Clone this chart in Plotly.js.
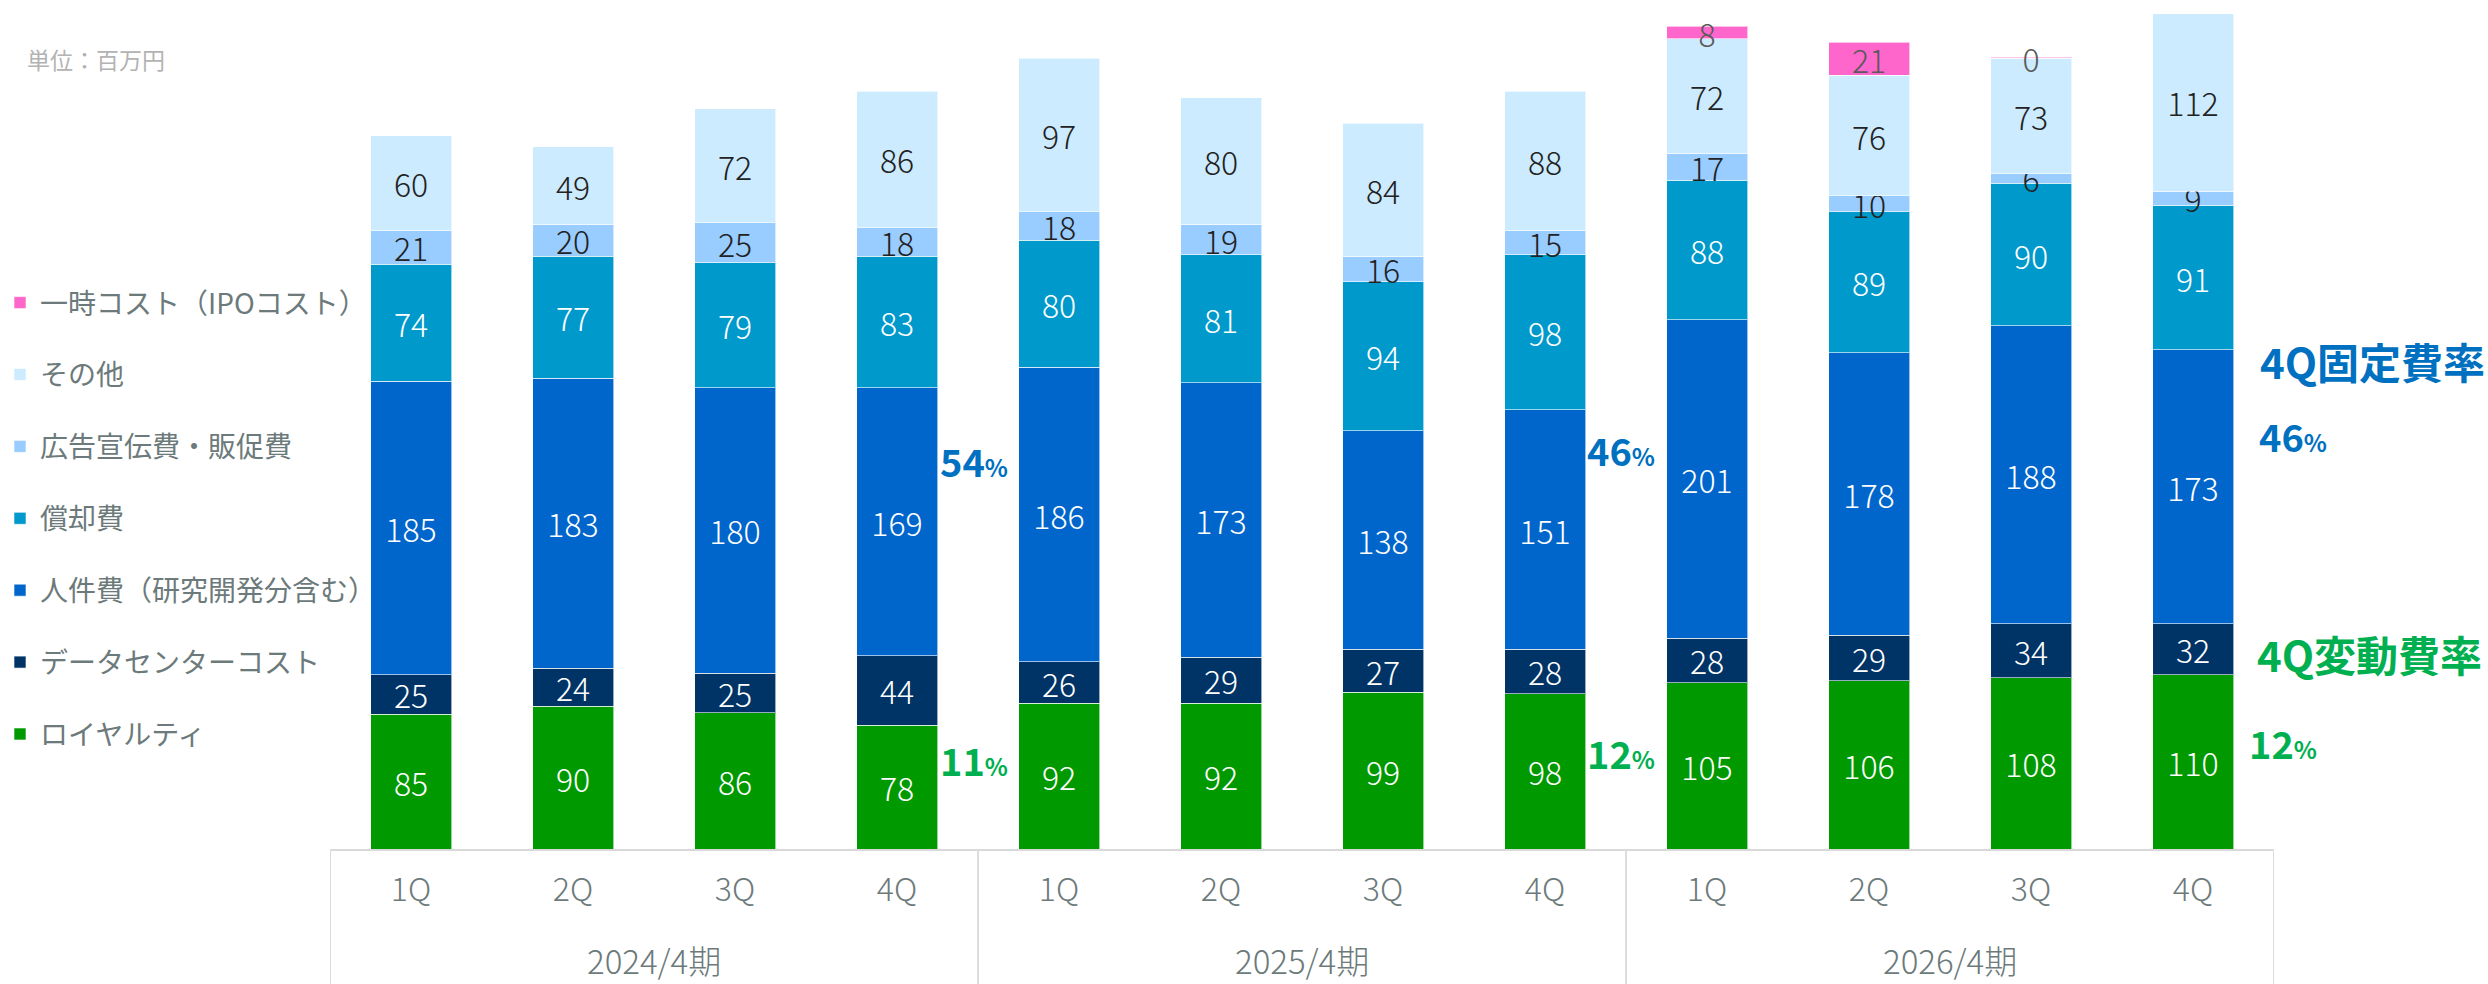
<!DOCTYPE html>
<html>
<head>
<meta charset="utf-8">
<script src="https://cdn.plot.ly/plotly-3.0.1.min.js"></script>
<style>html,body{margin:0;padding:0;background:#fff;}#chart{width:2488px;height:984px;}</style>
</head>
<body>
<div id="chart"></div>
<script>
// ---- data ----
const fiscalYears = ['2024/4期', '2025/4期', '2026/4期'];
const quarters = ['1Q', '2Q', '3Q', '4Q'];

const royalty    = [85, 90, 86, 78, 92, 92, 99, 98, 105, 106, 108, 110];
const dataCenter = [25, 24, 25, 44, 26, 29, 27, 28, 28, 29, 34, 32];
const personnel  = [185, 183, 180, 169, 186, 173, 138, 151, 201, 178, 188, 173];
const depreciation = [74, 77, 79, 83, 80, 81, 94, 98, 88, 89, 90, 91];
const advertising  = [21, 20, 25, 18, 18, 19, 16, 15, 17, 10, 6, 9];
const other        = [60, 49, 72, 86, 97, 80, 84, 88, 72, 76, 73, 112];
const ipoCost      = [null, null, null, null, null, null, null, null, 8, 21, 0.4, null];

const seriesNames = ['ロイヤルティ', 'データセンターコスト', '人件費（研究開発分含む）', '償却費', '広告宣伝費・販促費', 'その他', '一時コスト（IPOコスト）'];
const seriesValues = [royalty, dataCenter, personnel, depreciation, advertising, other, ipoCost];
const seriesColors = ['#009900', '#003366', '#0066CC', '#0099CC', '#99CCFF', '#CCEBFF', '#FF66CC'];
const labelColors  = ['#ffffff', '#ffffff', '#ffffff', '#ffffff', '#222222', '#222222', '#595959'];

// ---- categories ----
const categories = [], tickLabels = [];
fiscalYears.forEach(fy => quarters.forEach(q => { categories.push(fy + ' ' + q); tickLabels.push(q); }));

const FONT = '"Noto Sans CJK JP", "Noto Sans", sans-serif';
const AXIS_GREY = '#6c7a7b';

const traces = seriesValues.map((vals, i) => ({
  type: 'bar',
  name: seriesNames[i],
  x: categories,
  y: vals,
  legendgroup: 'g' + i,
  legendrank: seriesValues.length - i,
  marker: { color: seriesColors[i], line: { color: 'rgba(255,255,255,0.6)', width: 1 } },
  texttemplate: '%{y:.0f}',
  textposition: 'inside',
  insidetextanchor: 'middle',
  textangle: 0,
  constraintext: 'none',
  insidetextfont: { family: FONT, size: 32, weight: 300, color: labelColors[i] },
  hoverinfo: 'skip'
}));

const blue = '#0070C0', green = '#00B050';
function pct(num) {
  return '<b>' + num + '</b><span style="font-size:24px"><b>%</b></span>';
}
const annotations = [
  { text: '単位：百万円', xref: 'paper', yref: 'paper', x: -0.157, y: 0.9305, xanchor: 'left', yanchor: 'middle', showarrow: false, font: { family: FONT, size: 23, color: '#b3b3b3' } },
  { text: pct('54'), xref: 'paper', yref: 'paper', x: 0.3315, y: 0.458, xanchor: 'center', yanchor: 'middle', showarrow: false, font: { family: FONT, size: 38, color: blue } },
  { text: pct('11'), xref: 'paper', yref: 'paper', x: 0.3315, y: 0.106, xanchor: 'center', yanchor: 'middle', showarrow: false, font: { family: FONT, size: 38, color: green } },
  { text: pct('46'), xref: 'paper', yref: 'paper', x: 0.664, y: 0.471, xanchor: 'center', yanchor: 'middle', showarrow: false, font: { family: FONT, size: 38, color: blue } },
  { text: pct('12'), xref: 'paper', yref: 'paper', x: 0.664, y: 0.114, xanchor: 'center', yanchor: 'middle', showarrow: false, font: { family: FONT, size: 38, color: green } },
  { text: '<b>4Q固定費率</b>', xref: 'paper', yref: 'paper', x: 0.9918, y: 0.575, xanchor: 'left', yanchor: 'middle', showarrow: false, font: { family: FONT, size: 42, color: blue } },
  { text: pct('46'), xref: 'paper', yref: 'paper', x: 0.9913, y: 0.4876, xanchor: 'left', yanchor: 'middle', showarrow: false, font: { family: FONT, size: 38, color: blue } },
  { text: '<b>4Q変動費率</b>', xref: 'paper', yref: 'paper', x: 0.9903, y: 0.2297, xanchor: 'left', yanchor: 'middle', showarrow: false, font: { family: FONT, size: 42, color: green } },
  { text: pct('12'), xref: 'paper', yref: 'paper', x: 0.9862, y: 0.1249, xanchor: 'left', yanchor: 'middle', showarrow: false, font: { family: FONT, size: 38, color: green } }
];

// fiscal-year group labels and divider lines under the axis
const shapes = [];
fiscalYears.forEach((fy, g) => {
  const mid = g * quarters.length + (quarters.length - 1) / 2;
  annotations.push({ text: fy, xref: 'x', yref: 'paper', x: mid, y: -0.1307, xanchor: 'center', yanchor: 'middle', showarrow: false, font: { family: FONT, size: 33, weight: 300, color: AXIS_GREY } });
});
for (let g = 0; g <= fiscalYears.length; g++) {
  const xb = g * quarters.length - 0.5;
  shapes.push({ type: 'line', xref: 'x', yref: 'paper', x0: xb, x1: xb, y0: 0, y1: -0.17, line: { color: '#dcdcdc', width: 2 } });
}

const layout = {
  width: 2488, height: 984,
  margin: { l: 330, r: 214, t: 0, b: 135, autoexpand: false },
  paper_bgcolor: '#ffffff', plot_bgcolor: '#ffffff',
  barmode: 'stack',
  bargap: 0.5,
  font: { family: FONT, color: AXIS_GREY },
  xaxis: {
    type: 'category',
    range: [-0.5, 11.5],
    tickvals: categories, ticktext: tickLabels,
    showline: true, linecolor: '#d9d9d9', linewidth: 2,
    ticks: 'outside', ticklen: 12, tickcolor: 'rgba(0,0,0,0)',
    showgrid: false, zeroline: false, automargin: false,
    tickfont: { family: FONT, size: 32, weight: 300, color: AXIS_GREY }
  },
  yaxis: { visible: false, range: [0, 535.6], showgrid: false, zeroline: false, fixedrange: true },
  showlegend: true,
  legend: {
    xref: 'container', yref: 'container',
    x: 0, y: 0.7176, xanchor: 'left', yanchor: 'top',
    traceorder: 'grouped', tracegroupgap: 32.5,
    font: { family: FONT, size: 28, color: AXIS_GREY },
    bgcolor: 'rgba(0,0,0,0)'
  },
  shapes: shapes,
  annotations: annotations
};

Plotly.newPlot('chart', traces, layout, { displayModeBar: false, staticPlot: true });
</script>
</body>
</html>
